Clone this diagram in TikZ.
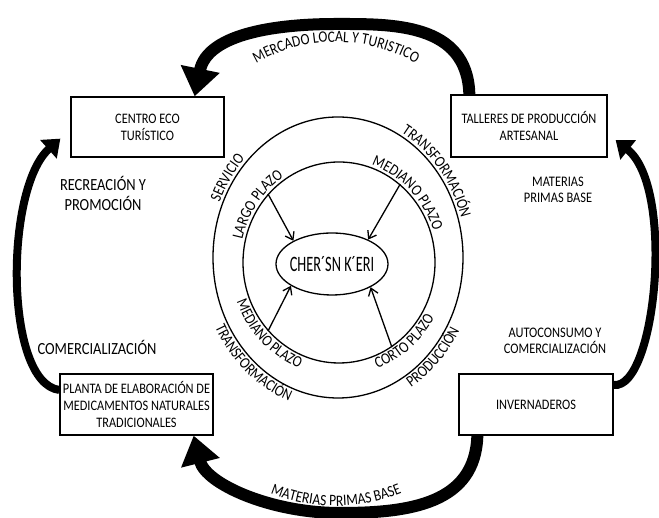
\documentclass[tikz,border=0pt]{standalone}
\usepackage{fontspec}
\setmainfont{Carlito}
\newfontfamily\estrecha{Carlito}[FakeStretch=0.85]
\newfontfamily\muyestrecha{Carlito}[FakeStretch=0.65]
\usepackage{tikz}
\usetikzlibrary{
	arrows.meta, shapes.geometric, positioning, calc, decorations.text
}
\newcommand{\boxfont}{\estrecha\fontsize{14.5}{17}\selectfont}
\newcommand{\tagfont}{\estrecha\fontsize{17}{20}\selectfont}
\newcommand{\sidefont}{\estrecha\fontsize{14.6}{16}\selectfont}
\newcommand{\ringfont}{\estrecha\fontsize{15.9}{18}\selectfont}

\begin{document}
\begin{tikzpicture}[x=1pt, y=1pt,
		caja/.style={draw, line width=1.3pt, align=center, inner sep=2pt, minimum width=154pt, minimum height=61pt, font=\boxfont},
		anillo/.style={draw, ellipse, line width=1.3pt, inner sep=0pt},
		flechagrande/.style={line width=12pt, -{Triangle[length=28pt, width=38pt]}},
		flechalado/.style={line width=8pt, -{Triangle[length=16pt, width=24pt]}},
		flechita/.style={line width=1.3pt, -{Straight Barb[length=7pt, width=10pt]}},
		rotulo/.style={decorate, decoration={text along path, text align=center, text={#1}}}
	]
	\useasboundingbox (0,0) rectangle (659,518);
	% cajas
	\node[caja, minimum width=153pt, minimum height=60pt] (centro) at (147.5,391) {CENTRO ECO\\TURÍSTICO};
	\node[caja, minimum width=156pt, minimum height=62pt] (talleres) at (529,392) {TALLERES DE PRODUCCIÓN\\ARTESANAL};
	\node[caja, minimum width=153pt] (planta) at (136.5,113.5) {PLANTA DE ELABORACIÓN DE\\MEDICAMENTOS NATURALES\\TRADICIONALES};
	\node[caja] (invern) at (536,113.5) {INVERNADEROS};
	% anillos
	\node[anillo, minimum width=250pt, minimum height=281pt] (externo) at (338,260.5) {};
	\node[anillo, minimum width=192pt, minimum height=201pt] (interno) at (339,255.5) {};
	\node[anillo, minimum width=112pt, minimum height=62pt, inner xsep=-12pt, font=\muyestrecha\fontsize{22}{24}\selectfont] (nucleo) at (332,254) {CHER´SN K´ERI};
	\draw[flechita] (interno.136) -- (nucleo.149);
	\draw[flechita] (interno.52) -- (nucleo.34);
	\draw[flechita] (interno.224) -- (nucleo.208);
	\draw[flechita] (interno.302) -- (nucleo.329);
	% textos de los anillos
	\path[rotulo={|\ringfont|SERVICIO}] ($(externo.center)+(186:128pt and 143.5pt)$) arc[start angle=186, end angle=106, x radius=128pt, y radius=143.5pt];
	\path[rotulo={|\ringfont|TRANSFORMACIÓN}] ($(externo.center)+(100:128pt and 143.5pt)$) arc[start angle=100, end angle=-20, x radius=128pt, y radius=143.5pt];
	\path[rotulo={|\ringfont|LARGO PLAZO}] ($(interno.center)+(200:99pt and 103.5pt)$) arc[start angle=200, end angle=90, x radius=99pt, y radius=103.5pt];
	\path[rotulo={|\ringfont|MEDIANO PLAZO}] ($(interno.center)+(110:99pt and 103.5pt)$) arc[start angle=110, end angle=-20, x radius=99pt, y radius=103.5pt];
	\path[rotulo={|\ringfont|MEDIANO PLAZO}] ($(interno.center)+(170:109pt and 113.5pt)$) arc[start angle=170, end angle=280, x radius=109pt, y radius=113.5pt];
	\path[rotulo={|\ringfont|TRANSFORMACIÓN}] ($(externo.center)+(170:138pt and 153.5pt)$) arc[start angle=170, end angle=290, x radius=138pt, y radius=153.5pt];
	\path[rotulo={|\ringfont|CORTO PLAZO}] ($(interno.center)+(250:109pt and 113.5pt)$) arc[start angle=250, end angle=370, x radius=109pt, y radius=113.5pt];
	\path[rotulo={|\ringfont|PRODUCCIÓN}] ($(externo.center)+(260:138pt and 153.5pt)$) arc[start angle=260, end angle=370, x radius=138pt, y radius=153.5pt];
	% flechas grandes
	\coordinate (cima) at (336,494);
	\coordinate (fondo) at (340,5);
	\draw[flechagrande] ([xshift=19pt]talleres.north west) .. controls +(-2,72) and +(55,0) .. (cima) .. controls +(-55,0) and +(13,64) .. ([xshift=-30pt]centro.north east);
	\draw[flechagrande] ([xshift=19pt]invern.south west) .. controls +(-2,-68) and +(70,0) .. (fondo) .. controls +(-70,0) and +(12,-48) .. ([xshift=-20pt]planta.south east);
	\draw[flechalado] ([yshift=14.5pt]planta.west) .. controls +(-55,7) and +(-56,-50) .. ([xshift=-10pt,yshift=19pt]centro.south west);
	\draw[flechalado] ([yshift=19.5pt]invern.east) .. controls +(42,-5) and +(60,-48) .. ([xshift=8pt,yshift=-14pt]talleres.east);
	\path[rotulo={|\ringfont|MERCADO LOCAL Y TURISTICO}] ($(336,316)+(125:160pt)$) arc[start angle=125, end angle=55, radius=160pt];
	\path[rotulo={|\ringfont|MATERIAS PRIMAS BASE}] ($(336,186.6)+(240:174.6pt)$) arc[start angle=240, end angle=300, radius=174.6pt];
	% rotulos sueltos
	\node[font=\tagfont, align=center] (recreacion) at (103,325) {RECREACIÓN Y\\PROMOCIÓN};
	\node[font=\tagfont] (comercial) at (97,171) {COMERCIALIZACIÓN};
	\node[font=\sidefont, align=center] (materias) at (558,328) {MATERIAS\\PRIMAS BASE};
	\node[font=\sidefont, align=center] (autoconsumo) at (555,177) {AUTOCONSUMO Y\\COMERCIALIZACIÓN};
\end{tikzpicture}
\end{document}
